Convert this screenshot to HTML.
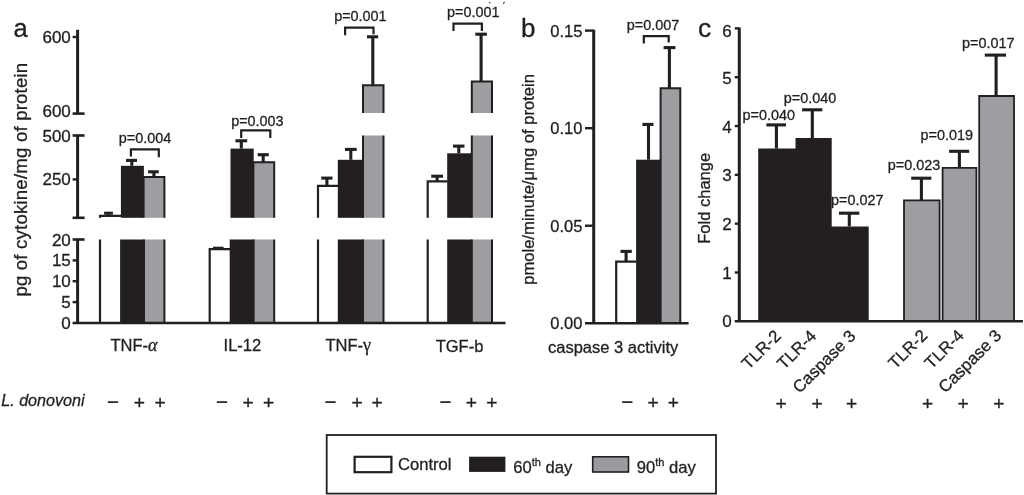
<!DOCTYPE html>
<html><head><meta charset="utf-8"><title>Figure</title>
<style>
html,body{margin:0;padding:0;background:#fff;}
body{width:1024px;height:495px;overflow:hidden;}
svg{display:block;will-change:transform;}
text{font-family:'Liberation Sans', Arial, Helvetica, sans-serif;fill:#231f20;stroke:#231f20;stroke-width:0.3px;}
</style></head>
<body>
<svg width="1024" height="495" viewBox="0 0 1024 495">
<rect x="0" y="0" width="1024" height="495" fill="#fff"/>
<text x="13.6" y="37.0" font-size="25.5" text-anchor="start" >a</text>
<text x="70.8" y="42.9" font-size="17" text-anchor="end" >600</text>
<text x="70.8" y="117.4" font-size="17" text-anchor="end" >600</text>
<text x="70.8" y="141.6" font-size="17" text-anchor="end" >500</text>
<text x="70.8" y="185.2" font-size="17" text-anchor="end" >250</text>
<text x="70.8" y="245.5" font-size="17" text-anchor="end" >20</text>
<text x="70.8" y="266.4" font-size="17" text-anchor="end" >15</text>
<text x="70.8" y="287.1" font-size="17" text-anchor="end" >10</text>
<text x="70.8" y="307.9" font-size="17" text-anchor="end" >5</text>
<text x="70.8" y="328.7" font-size="17" text-anchor="end" >0</text>
<text x="0" y="0" font-size="18.6" letter-spacing="0.2" text-anchor="middle" transform="translate(26.8 179.6) rotate(-90)">pg of cytokine/mg of protein</text>
<text x="145.0" y="142.6" font-size="14.4" text-anchor="middle" >p=0.004</text>
<text x="257.4" y="125.7" font-size="14.4" text-anchor="middle" >p=0.003</text>
<text x="360.4" y="20.6" font-size="14.4" text-anchor="middle" >p=0.001</text>
<text x="473.3" y="17.0" font-size="14.4" text-anchor="middle" >p=0.001</text>
<rect x="100.0" y="239.5" width="20.40" height="83.50" fill="#fff"/>
<path d="M100.0 323.0 V239.5" fill="none" stroke="#231f20" stroke-width="2.2"/>
<rect x="120.1" y="239.5" width="24.20" height="83.50" fill="#231f20"/>
<rect x="144.0" y="239.5" width="20.40" height="83.50" fill="#9e9da2"/>
<path d="M144.0 323.0 V239.5 M164.4 239.5 V323.0" fill="none" stroke="#231f20" stroke-width="2.0"/>
<rect x="209.7" y="249.2" width="20.30" height="73.80" fill="#fff"/>
<path d="M209.7 323.0 V249.2 H230.0" fill="none" stroke="#231f20" stroke-width="2.2"/>
<rect x="229.7" y="239.5" width="24.20" height="83.50" fill="#231f20"/>
<rect x="253.6" y="239.5" width="20.60" height="83.50" fill="#9e9da2"/>
<path d="M253.6 323.0 V239.5 M274.2 239.5 V323.0" fill="none" stroke="#231f20" stroke-width="2.0"/>
<line x1="218.2" y1="249.2" x2="218.2" y2="247.9" stroke="#231f20" stroke-width="1.8" stroke-linecap="butt"/>
<line x1="213.0" y1="247.9" x2="223.6" y2="247.9" stroke="#231f20" stroke-width="2.4" stroke-linecap="butt"/>
<rect x="318.0" y="239.5" width="20.10" height="83.50" fill="#fff"/>
<path d="M318.0 323.0 V239.5" fill="none" stroke="#231f20" stroke-width="2.2"/>
<rect x="337.8" y="239.5" width="25.50" height="83.50" fill="#231f20"/>
<rect x="363.0" y="239.5" width="20.50" height="83.50" fill="#9e9da2"/>
<path d="M363.0 323.0 V239.5 M383.5 239.5 V323.0" fill="none" stroke="#231f20" stroke-width="2.0"/>
<rect x="427.7" y="239.5" width="19.80" height="83.50" fill="#fff"/>
<path d="M427.7 323.0 V239.5" fill="none" stroke="#231f20" stroke-width="2.2"/>
<rect x="447.2" y="239.5" width="24.90" height="83.50" fill="#231f20"/>
<rect x="471.8" y="239.5" width="20.20" height="83.50" fill="#9e9da2"/>
<path d="M471.8 323.0 V239.5 M492.0 239.5 V323.0" fill="none" stroke="#231f20" stroke-width="2.0"/>
<rect x="100.0" y="215.9" width="21.20" height="1.90" fill="#fff"/>
<path d="M100.0 217.8 V215.9 H121.2" fill="none" stroke="#231f20" stroke-width="2.2"/>
<line x1="108.5" y1="215.9" x2="108.5" y2="213.2" stroke="#231f20" stroke-width="2.0" stroke-linecap="butt"/>
<line x1="104.1" y1="213.2" x2="112.9" y2="213.2" stroke="#231f20" stroke-width="3.0" stroke-linecap="butt"/>
<rect x="120.9" y="165.8" width="23.00" height="52.00" fill="#231f20"/>
<line x1="131.8" y1="165.8" x2="131.8" y2="160.4" stroke="#231f20" stroke-width="3.1" stroke-linecap="butt"/>
<line x1="126.0" y1="160.4" x2="137.0" y2="160.4" stroke="#231f20" stroke-width="3.1" stroke-linecap="butt"/>
<rect x="143.6" y="176.9" width="20.80" height="40.90" fill="#9e9da2"/>
<path d="M143.6 217.8 V176.9 H164.4 V217.8" fill="none" stroke="#231f20" stroke-width="2.0"/>
<line x1="153.9" y1="176.9" x2="153.9" y2="171.8" stroke="#231f20" stroke-width="3.1" stroke-linecap="butt"/>
<line x1="148.1" y1="171.8" x2="158.7" y2="171.8" stroke="#231f20" stroke-width="3.1" stroke-linecap="butt"/>
<path d="M130.9 156.6 V149.3 H158.8 V157.2" fill="none" stroke="#231f20" stroke-width="2.2"/>
<rect x="230.5" y="148.6" width="23.20" height="69.20" fill="#231f20"/>
<line x1="241.3" y1="148.6" x2="241.3" y2="140.8" stroke="#231f20" stroke-width="3.1" stroke-linecap="butt"/>
<line x1="235.4" y1="140.8" x2="247.2" y2="140.8" stroke="#231f20" stroke-width="3.1" stroke-linecap="butt"/>
<rect x="253.4" y="162.2" width="20.80" height="55.60" fill="#9e9da2"/>
<path d="M253.4 217.8 V162.2 H274.2 V217.8" fill="none" stroke="#231f20" stroke-width="2.0"/>
<line x1="263.2" y1="162.2" x2="263.2" y2="154.7" stroke="#231f20" stroke-width="3.1" stroke-linecap="butt"/>
<line x1="257.7" y1="154.7" x2="268.8" y2="154.7" stroke="#231f20" stroke-width="3.1" stroke-linecap="butt"/>
<path d="M241.2 138.0 V130.3 H270.3 V138.0" fill="none" stroke="#231f20" stroke-width="2.2"/>
<rect x="318.0" y="185.8" width="20.10" height="32.00" fill="#fff"/>
<path d="M318.0 217.8 V185.8 H338.1" fill="none" stroke="#231f20" stroke-width="2.2"/>
<line x1="326.9" y1="185.8" x2="326.9" y2="178.1" stroke="#231f20" stroke-width="3.1" stroke-linecap="butt"/>
<line x1="321.3" y1="178.1" x2="332.5" y2="178.1" stroke="#231f20" stroke-width="3.1" stroke-linecap="butt"/>
<rect x="337.8" y="159.8" width="25.50" height="58.00" fill="#231f20"/>
<line x1="350.8" y1="159.8" x2="350.8" y2="149.4" stroke="#231f20" stroke-width="3.1" stroke-linecap="butt"/>
<line x1="345.0" y1="149.4" x2="356.7" y2="149.4" stroke="#231f20" stroke-width="3.1" stroke-linecap="butt"/>
<rect x="363.0" y="135.5" width="20.50" height="82.30" fill="#9e9da2"/>
<path d="M363.0 217.8 V135.5 M383.5 135.5 V217.8" fill="none" stroke="#231f20" stroke-width="2.0"/>
<rect x="427.7" y="181.4" width="19.80" height="36.40" fill="#fff"/>
<path d="M427.7 217.8 V181.4 H447.5" fill="none" stroke="#231f20" stroke-width="2.2"/>
<line x1="437.1" y1="181.4" x2="437.1" y2="176.2" stroke="#231f20" stroke-width="3.1" stroke-linecap="butt"/>
<line x1="431.2" y1="176.2" x2="443.0" y2="176.2" stroke="#231f20" stroke-width="3.1" stroke-linecap="butt"/>
<rect x="447.2" y="153.3" width="24.90" height="64.50" fill="#231f20"/>
<line x1="458.8" y1="153.3" x2="458.8" y2="146.1" stroke="#231f20" stroke-width="3.1" stroke-linecap="butt"/>
<line x1="453.0" y1="146.1" x2="464.5" y2="146.1" stroke="#231f20" stroke-width="3.1" stroke-linecap="butt"/>
<rect x="471.8" y="135.5" width="20.20" height="82.30" fill="#9e9da2"/>
<path d="M471.8 217.8 V135.5 M492.0 135.5 V217.8" fill="none" stroke="#231f20" stroke-width="2.0"/>
<rect x="363.0" y="85.3" width="20.50" height="27.70" fill="#9e9da2"/>
<path d="M363.0 113.0 V85.3 H383.5 V113.0" fill="none" stroke="#231f20" stroke-width="2.0"/>
<line x1="372.8" y1="85.3" x2="372.8" y2="36.8" stroke="#231f20" stroke-width="3.1" stroke-linecap="butt"/>
<line x1="367.0" y1="36.8" x2="378.2" y2="36.8" stroke="#231f20" stroke-width="3.1" stroke-linecap="butt"/>
<path d="M345.1 35.3 V27.7 H373.5 V34.2" fill="none" stroke="#231f20" stroke-width="2.2"/>
<rect x="471.8" y="81.4" width="20.20" height="31.60" fill="#9e9da2"/>
<path d="M471.8 113.0 V81.4 H492.0 V113.0" fill="none" stroke="#231f20" stroke-width="2.0"/>
<line x1="481.1" y1="81.4" x2="481.1" y2="34.2" stroke="#231f20" stroke-width="3.1" stroke-linecap="butt"/>
<line x1="475.3" y1="34.2" x2="486.9" y2="34.2" stroke="#231f20" stroke-width="3.1" stroke-linecap="butt"/>
<path d="M453.5 31.0 V23.7 H481.9 V31.0" fill="none" stroke="#231f20" stroke-width="2.2"/>
<line x1="77.6" y1="29.8" x2="77.6" y2="113.6" stroke="#231f20" stroke-width="3.0" stroke-linecap="butt"/>
<line x1="72.6" y1="37.0" x2="77.6" y2="37.0" stroke="#231f20" stroke-width="2.4" stroke-linecap="butt"/>
<line x1="72.6" y1="113.6" x2="84.6" y2="113.6" stroke="#231f20" stroke-width="2.6" stroke-linecap="butt"/>
<line x1="77.6" y1="135.5" x2="77.6" y2="217.8" stroke="#231f20" stroke-width="3.0" stroke-linecap="butt"/>
<line x1="72.6" y1="135.5" x2="84.6" y2="135.5" stroke="#231f20" stroke-width="2.6" stroke-linecap="butt"/>
<line x1="72.6" y1="179.4" x2="77.6" y2="179.4" stroke="#231f20" stroke-width="2.4" stroke-linecap="butt"/>
<line x1="72.6" y1="217.8" x2="84.6" y2="217.8" stroke="#231f20" stroke-width="2.6" stroke-linecap="butt"/>
<line x1="77.6" y1="239.5" x2="77.6" y2="323.0" stroke="#231f20" stroke-width="3.0" stroke-linecap="butt"/>
<line x1="72.6" y1="239.5" x2="84.6" y2="239.5" stroke="#231f20" stroke-width="2.6" stroke-linecap="butt"/>
<line x1="72.6" y1="260.4" x2="77.6" y2="260.4" stroke="#231f20" stroke-width="2.4" stroke-linecap="butt"/>
<line x1="72.6" y1="281.2" x2="77.6" y2="281.2" stroke="#231f20" stroke-width="2.4" stroke-linecap="butt"/>
<line x1="72.6" y1="302.1" x2="77.6" y2="302.1" stroke="#231f20" stroke-width="2.4" stroke-linecap="butt"/>
<line x1="72.6" y1="323.0" x2="505.5" y2="323.0" stroke="#231f20" stroke-width="2.6" stroke-linecap="butt"/>
<text x="110.5" y="351.0" font-size="16.5" text-anchor="start" >TNF-<tspan font-family="Liberation Serif, serif" font-style="italic" font-size="18">&#945;</tspan></text>
<text x="242.4" y="351.4" font-size="16.5" text-anchor="middle" >IL-12</text>
<text x="325.4" y="351.0" font-size="16.5" text-anchor="start" >TNF-<tspan font-family="Liberation Serif, serif" font-size="18">&#947;</tspan></text>
<text x="459.5" y="352.0" font-size="16.5" text-anchor="middle" >TGF-b</text>
<text x="548" y="352.8" font-size="16.5" text-anchor="start" >caspase 3 activity</text>
<text x="1.2" y="406.4" font-size="16.15" text-anchor="start" font-style="italic">L. donovoni</text>
<text x="113.0" y="409.4" font-size="20.5" text-anchor="middle" font-weight="normal">&#8722;</text>
<text x="139.3" y="409.3" font-size="19.2" text-anchor="middle" >+</text>
<text x="160.0" y="409.3" font-size="19.2" text-anchor="middle" >+</text>
<text x="222.0" y="409.4" font-size="20.5" text-anchor="middle" font-weight="normal">&#8722;</text>
<text x="248.0" y="409.3" font-size="19.2" text-anchor="middle" >+</text>
<text x="268.5" y="409.3" font-size="19.2" text-anchor="middle" >+</text>
<text x="330.5" y="409.4" font-size="20.5" text-anchor="middle" font-weight="normal">&#8722;</text>
<text x="357.0" y="409.3" font-size="19.2" text-anchor="middle" >+</text>
<text x="377.0" y="409.3" font-size="19.2" text-anchor="middle" >+</text>
<text x="445.6" y="409.4" font-size="20.5" text-anchor="middle" font-weight="normal">&#8722;</text>
<text x="471.3" y="409.3" font-size="19.2" text-anchor="middle" >+</text>
<text x="491.8" y="409.3" font-size="19.2" text-anchor="middle" >+</text>
<text x="627.3" y="409.4" font-size="20.5" text-anchor="middle" font-weight="normal">&#8722;</text>
<text x="653.0" y="409.3" font-size="19.2" text-anchor="middle" >+</text>
<text x="673.4" y="409.3" font-size="19.2" text-anchor="middle" >+</text>
<line x1="489.2" y1="2.2" x2="490.4" y2="3.4" stroke="#555" stroke-width="1.2"/>
<line x1="503.2" y1="3.8" x2="504.6" y2="1.9" stroke="#555" stroke-width="1.2"/>
<text x="521.0" y="37.0" font-size="26" text-anchor="start" >b</text>
<text x="582.4" y="36.5" font-size="16.5" text-anchor="end" >0.15</text>
<text x="582.4" y="134.07" font-size="16.5" text-anchor="end" >0.10</text>
<text x="582.4" y="231.63" font-size="16.5" text-anchor="end" >0.05</text>
<text x="582.4" y="329.2" font-size="16.5" text-anchor="end" >0.00</text>
<text x="0" y="0" font-size="16.6" text-anchor="middle" transform="translate(533.9 179.4) rotate(-90)">pmole/minute/&#956;mg of protein</text>
<text x="653.0" y="30.4" font-size="14.4" text-anchor="middle" >p=0.007</text>
<rect x="616.2" y="261.6" width="20.20" height="61.70" fill="#fff"/>
<path d="M616.2 323.3 V261.6 H636.4" fill="none" stroke="#231f20" stroke-width="2.2"/>
<line x1="626.1" y1="261.6" x2="626.1" y2="251.4" stroke="#231f20" stroke-width="3.1" stroke-linecap="butt"/>
<line x1="620.5" y1="251.4" x2="631.8" y2="251.4" stroke="#231f20" stroke-width="3.1" stroke-linecap="butt"/>
<rect x="636.1" y="159.7" width="24.80" height="163.60" fill="#231f20"/>
<line x1="648.5" y1="159.7" x2="648.5" y2="124.4" stroke="#231f20" stroke-width="3.1" stroke-linecap="butt"/>
<line x1="642.4" y1="124.4" x2="653.5" y2="124.4" stroke="#231f20" stroke-width="3.1" stroke-linecap="butt"/>
<rect x="660.6" y="88.3" width="19.70" height="235.00" fill="#9e9da2"/>
<path d="M660.6 323.3 V88.3 H680.3 V323.3" fill="none" stroke="#231f20" stroke-width="2.0"/>
<line x1="669.4" y1="88.3" x2="669.4" y2="47.6" stroke="#231f20" stroke-width="3.1" stroke-linecap="butt"/>
<line x1="663.6" y1="47.6" x2="675.4" y2="47.6" stroke="#231f20" stroke-width="3.1" stroke-linecap="butt"/>
<path d="M643.8 43.5 V36.1 H668.7 V42.5" fill="none" stroke="#231f20" stroke-width="2.2"/>
<line x1="593.7" y1="29.8" x2="593.7" y2="323.3" stroke="#231f20" stroke-width="3.0" stroke-linecap="butt"/>
<line x1="585.0" y1="30.6" x2="593.7" y2="30.6" stroke="#231f20" stroke-width="2.4" stroke-linecap="butt"/>
<line x1="585.0" y1="128.17" x2="593.7" y2="128.17" stroke="#231f20" stroke-width="2.4" stroke-linecap="butt"/>
<line x1="585.0" y1="225.73" x2="593.7" y2="225.73" stroke="#231f20" stroke-width="2.4" stroke-linecap="butt"/>
<line x1="585.0" y1="323.3" x2="688.6" y2="323.3" stroke="#231f20" stroke-width="2.6" stroke-linecap="butt"/>
<text x="698.0" y="36.6" font-size="26.5" text-anchor="start" >c</text>
<text x="731.6" y="327.2" font-size="17" text-anchor="end" >0</text>
<text x="731.6" y="278.58" font-size="17" text-anchor="end" >1</text>
<text x="731.6" y="230.07" font-size="17" text-anchor="end" >2</text>
<text x="731.6" y="181.35" font-size="17" text-anchor="end" >3</text>
<text x="731.6" y="132.93" font-size="17" text-anchor="end" >4</text>
<text x="731.6" y="84.12" font-size="17" text-anchor="end" >5</text>
<text x="731.6" y="37.1" font-size="17" text-anchor="end" >6</text>
<text x="0" y="0" font-size="16.5" text-anchor="middle" transform="translate(709.6 198.3) rotate(-90)">Fold change</text>
<text x="742.6" y="120.0" font-size="14.4" text-anchor="start" >p=0.040</text>
<text x="836.2" y="103.0" font-size="14.4" text-anchor="end" >p=0.040</text>
<text x="883.5" y="204.5" font-size="14.4" text-anchor="end" >p=0.027</text>
<text x="940.2" y="170.4" font-size="14.4" text-anchor="end" >p=0.023</text>
<text x="973.0" y="139.7" font-size="14.4" text-anchor="end" >p=0.019</text>
<text x="1014.4" y="48.2" font-size="14.4" text-anchor="end" >p=0.017</text>
<path d="M758.2 321.3 V148.5 H795.5 V138.0 H831.7 V226.5 H868.7 V321.3 Z" fill="#231f20"/>
<line x1="776.4" y1="148.5" x2="776.4" y2="124.9" stroke="#231f20" stroke-width="3.1" stroke-linecap="butt"/>
<line x1="766.4" y1="124.9" x2="786.0" y2="124.9" stroke="#231f20" stroke-width="3.1" stroke-linecap="butt"/>
<line x1="812.3" y1="138.0" x2="812.3" y2="109.8" stroke="#231f20" stroke-width="3.1" stroke-linecap="butt"/>
<line x1="802.1" y1="109.8" x2="822.3" y2="109.8" stroke="#231f20" stroke-width="3.1" stroke-linecap="butt"/>
<line x1="849.3" y1="226.5" x2="849.3" y2="213.2" stroke="#231f20" stroke-width="3.1" stroke-linecap="butt"/>
<line x1="839.0" y1="213.2" x2="859.3" y2="213.2" stroke="#231f20" stroke-width="3.1" stroke-linecap="butt"/>
<rect x="904.0" y="200.3" width="35.60" height="121.00" fill="#9e9da2"/>
<path d="M904.0 321.3 V200.3 H939.6 V321.3" fill="none" stroke="#231f20" stroke-width="1.8"/>
<rect x="942.6" y="167.9" width="33.80" height="153.40" fill="#9e9da2"/>
<path d="M942.6 321.3 V167.9 H976.4 V321.3" fill="none" stroke="#231f20" stroke-width="1.8"/>
<rect x="979.2" y="96.0" width="34.80" height="225.30" fill="#9e9da2"/>
<path d="M979.2 321.3 V96.0 H1014.0 V321.3" fill="none" stroke="#231f20" stroke-width="1.8"/>
<line x1="921.4" y1="200.3" x2="921.4" y2="178.2" stroke="#231f20" stroke-width="3.1" stroke-linecap="butt"/>
<line x1="911.2" y1="178.2" x2="931.4" y2="178.2" stroke="#231f20" stroke-width="3.1" stroke-linecap="butt"/>
<line x1="959.4" y1="167.9" x2="959.4" y2="151.3" stroke="#231f20" stroke-width="3.1" stroke-linecap="butt"/>
<line x1="949.1" y1="151.3" x2="969.2" y2="151.3" stroke="#231f20" stroke-width="3.1" stroke-linecap="butt"/>
<line x1="996.1" y1="96.6" x2="996.1" y2="55.1" stroke="#231f20" stroke-width="3.1" stroke-linecap="butt"/>
<line x1="984.8" y1="55.1" x2="1006.1" y2="55.1" stroke="#231f20" stroke-width="3.1" stroke-linecap="butt"/>
<line x1="739.3" y1="27.4" x2="739.3" y2="321.3" stroke="#231f20" stroke-width="3.0" stroke-linecap="butt"/>
<line x1="734.8" y1="272.48" x2="739.3" y2="272.48" stroke="#231f20" stroke-width="2.4" stroke-linecap="butt"/>
<line x1="734.8" y1="223.67" x2="739.3" y2="223.67" stroke="#231f20" stroke-width="2.4" stroke-linecap="butt"/>
<line x1="734.8" y1="174.85" x2="739.3" y2="174.85" stroke="#231f20" stroke-width="2.4" stroke-linecap="butt"/>
<line x1="734.8" y1="126.03" x2="739.3" y2="126.03" stroke="#231f20" stroke-width="2.4" stroke-linecap="butt"/>
<line x1="734.8" y1="77.22" x2="739.3" y2="77.22" stroke="#231f20" stroke-width="2.4" stroke-linecap="butt"/>
<line x1="734.8" y1="28.4" x2="739.3" y2="28.4" stroke="#231f20" stroke-width="2.4" stroke-linecap="butt"/>
<line x1="734.8" y1="321.3" x2="1022.9" y2="321.3" stroke="#231f20" stroke-width="2.6" stroke-linecap="butt"/>
<text x="0" y="0" font-size="16.9" text-anchor="end" transform="translate(781.8 337.0) rotate(-45)">TLR-2</text>
<text x="0" y="0" font-size="16.9" text-anchor="end" transform="translate(817.3 337.0) rotate(-45)">TLR-4</text>
<text x="0" y="0" font-size="16.9" text-anchor="end" transform="translate(856.6 337.0) rotate(-45)">Caspase 3</text>
<text x="0" y="0" font-size="16.9" text-anchor="end" transform="translate(928.4 336.6) rotate(-45)">TLR-2</text>
<text x="0" y="0" font-size="16.9" text-anchor="end" transform="translate(964.8 336.6) rotate(-45)">TLR-4</text>
<text x="0" y="0" font-size="16.9" text-anchor="end" transform="translate(1002.4 336.6) rotate(-45)">Caspase 3</text>
<text x="781.1" y="409.5" font-size="19.2" text-anchor="middle" >+</text>
<text x="817.1" y="409.5" font-size="19.2" text-anchor="middle" >+</text>
<text x="851.6" y="409.5" font-size="19.2" text-anchor="middle" >+</text>
<text x="927.5" y="409.5" font-size="19.2" text-anchor="middle" >+</text>
<text x="963.2" y="409.5" font-size="19.2" text-anchor="middle" >+</text>
<text x="998.8" y="409.5" font-size="19.2" text-anchor="middle" >+</text>
<rect x="326.7" y="435.0" width="389.3" height="58.6" fill="none" stroke="#231f20" stroke-width="1.8"/>
<rect x="354.6" y="456.8" width="36.8" height="15.4" fill="#fff" stroke="#231f20" stroke-width="2.2"/>
<text x="398.0" y="469.8" font-size="16.6" text-anchor="start" >Control</text>
<rect x="469.1" y="456.7" width="36.30" height="15.20" fill="#231f20"/>
<text x="513.2" y="473.4" font-size="16.6" text-anchor="start" >60<tspan font-size="11" dy="-7.6">th</tspan><tspan dy="7.6"> day</tspan></text>
<rect x="592.7" y="456.8" width="35.8" height="15.2" fill="#9b9a9f" stroke="#231f20" stroke-width="1.6"/>
<text x="636.8" y="473.2" font-size="16.6" text-anchor="start" >90<tspan font-size="11" dy="-7.6">th</tspan><tspan dy="7.6"> day</tspan></text>
</svg>
</body></html>
